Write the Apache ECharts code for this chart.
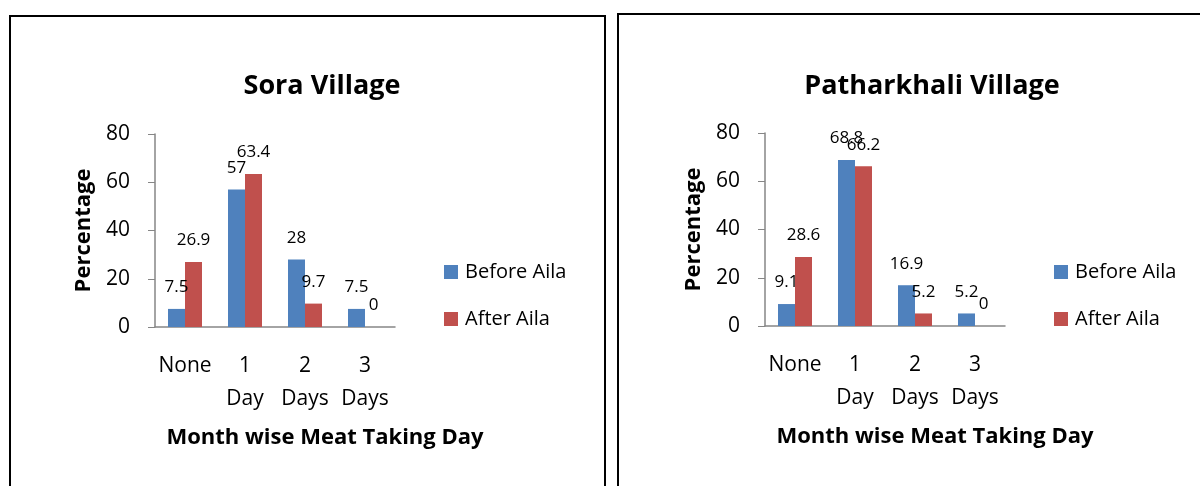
<!DOCTYPE html>
<html>
<head>
<meta charset="utf-8">
<script src="https://cdn.jsdelivr.net/npm/echarts@6/dist/echarts.min.js"></script>
<style>
    html, body { margin: 0; padding: 0; width: 1200px; height: 486px; overflow: hidden; background: #fff; }
    .panel { position: absolute; border: 2px solid #000; box-sizing: border-box; }
    #chart { position: absolute; left: 0; top: 0; width: 1200px; height: 486px; }
</style>
</head>
<body>
<div class="panel" style="left: 9px; top: 15px; width: 597px; height: 520px;"></div>
<div class="panel" style="left: 617px; top: 13px; width: 700px; height: 520px;"></div>
<div id="chart"></div>
<script>
    // categories on the x axis
    const categories = ['None', '1\nDay', '2\nDays', '3\nDays'];
    const yTicks = [0, 20, 40, 60, 80];

    // Sora Village
    const soraBefore = [7.5, 57, 28, 7.5];
    const soraAfter = [26.9, 63.4, 9.7, 0];

    // Patharkhali Village
    const pathBefore = [9.1, 68.8, 16.9, 5.2];
    const pathAfter = [28.6, 66.2, 5.2, 0];

    const seriesNames = ['Before Aila', 'After Aila'];
    const colors = ['#4F81BD', '#C0504D'];
    const font = '"Open Sans", Lato, sans-serif';

    // one panel: title + grid + axes + legend at given pixel spots
    function panel(idx, title, before, after, pos) {
        return {
            title: {
                text: title,
                left: pos.titleX,
                top: 68,
                textAlign: 'center',
                textStyle: { fontFamily: font, fontSize: 27, fontWeight: 'bold', color: '#000' }
            },
            grid: { left: pos.gridLeft, top: pos.gridTop, width: 240, height: 193 },
            xAxis: {
                type: 'category',
                gridIndex: idx,
                data: categories,
                axisLine: { lineStyle: { color: '#868686', width: 1.5 } },
                axisTick: { show: false },
                axisLabel: { color: '#000', fontFamily: font, fontSize: 21, lineHeight: 33, margin: 23, interval: 0 },
                name: 'Month wise Meat Taking Day',
                nameLocation: 'middle',
                nameGap: 100,
                // Excel put the axis title a bit right of the plot centre
                nameTextStyle: { color: '#000', fontFamily: font, fontSize: 22, fontWeight: 'bold', padding: [0, 0, 0, 100] }
            },
            yAxis: {
                type: 'value',
                gridIndex: idx,
                min: yTicks[0],
                max: yTicks[yTicks.length - 1],
                interval: 20,
                axisLine: { show: true, lineStyle: { color: '#868686', width: 1.5 } },
                axisTick: { show: true, length: 7, lineStyle: { color: '#868686' } },
                splitLine: { show: false },
                axisLabel: { color: '#000', fontFamily: font, fontSize: 21, margin: 25 },
                name: 'Percentage',
                nameLocation: 'middle',
                nameGap: 60,
                nameTextStyle: { color: '#000', fontFamily: font, fontSize: 22, fontWeight: 'bold' }
            },
            legend: {
                orient: 'vertical',
                left: pos.legendLeft,
                top: 257,
                itemWidth: 14,
                itemHeight: 14,
                itemGap: 27,
                icon: 'rect',
                data: seriesNames,
                textStyle: { color: '#000', fontFamily: font, fontSize: 20, padding: [0, 0, 0, 2] }
            },
            series: [before, after].map((vals, i) => ({
                type: 'bar',
                name: seriesNames[i],
                xAxisIndex: idx,
                yAxisIndex: idx,
                data: vals,
                barWidth: 17,
                barGap: '0%',
                itemStyle: { color: colors[i] },
                label: {
                    show: true,
                    position: 'top',
                    distance: 13,
                    color: '#000',
                    fontFamily: font,
                    fontSize: 17
                }
            }))
        }
    }

    const left = panel(0, 'Sora Village', soraBefore, soraAfter,
        { titleX: 317, gridLeft: 155, gridTop: 134, legendLeft: 439 });
    const right = panel(1, 'Patharkhali Village', pathBefore, pathAfter,
        { titleX: 927, gridLeft: 765, gridTop: 133, legendLeft: 1049 });

    const option = {
        animation: false,
        title: [left.title, right.title],
        grid: [left.grid, right.grid],
        xAxis: [left.xAxis, right.xAxis],
        yAxis: [left.yAxis, right.yAxis],
        legend: [left.legend, right.legend],
        series: left.series.concat(right.series)
    };

    const myChart = echarts.init(document.getElementById('chart'), null, { renderer: 'canvas' });
    myChart.setOption(option);
</script>
</body>
</html>
